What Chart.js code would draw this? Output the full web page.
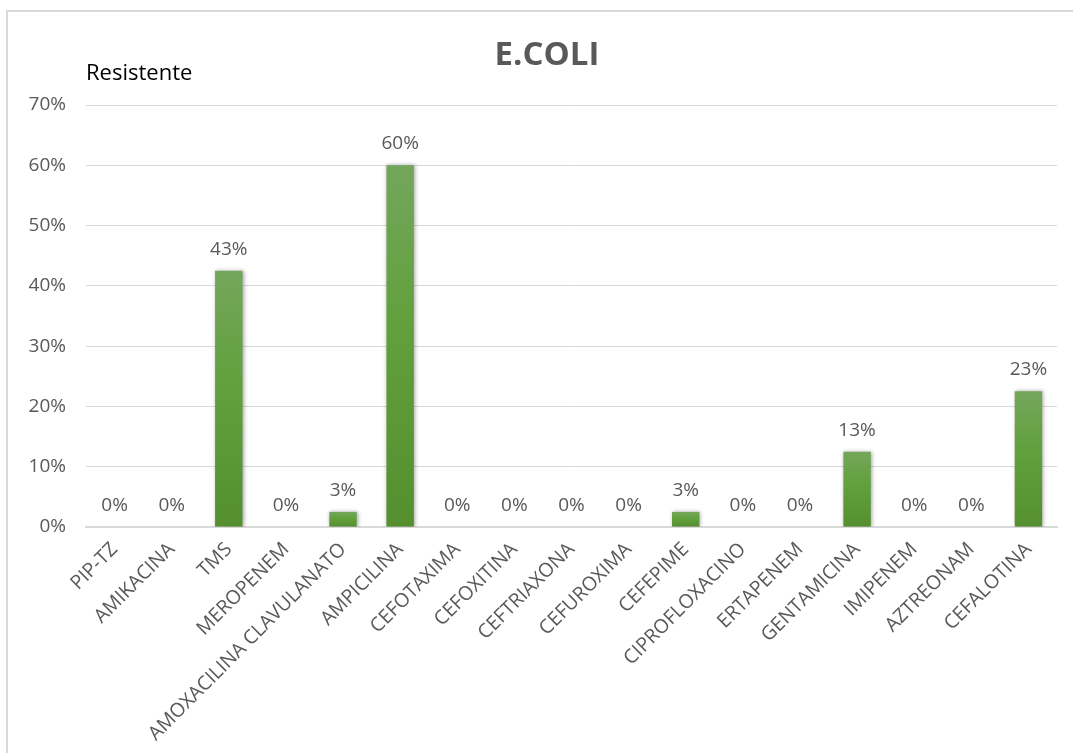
<!DOCTYPE html>
<html>
<head>
<meta charset="utf-8">
<title>E.COLI</title>
<script src="https://cdn.jsdelivr.net/npm/chart.js@4/dist/chart.umd.min.js"></script>
<style>
  html, body { margin: 0; padding: 0; background: #fff; overflow: hidden; }
  #marco { position: absolute; left: 6px; top: 10px; width: 1200px; height: 800px; border-left: 2px solid #d9d9d9; border-top: 2px solid #d9d9d9; }
  #contenedor { position: absolute; left: 0; top: 0; width: 1073px; height: 753px; }
</style>
</head>
<body>
<div id="marco"></div>
<div id="contenedor"><canvas id="grafico"></canvas></div>
<script>
const antibioticos = [
  "PIP-TZ", "AMIKACINA", "TMS", "MEROPENEM", "AMOXACILINA CLAVULANATO",
  "AMPICILINA", "CEFOTAXIMA", "CEFOXITINA", "CEFTRIAXONA", "CEFUROXIMA",
  "CEFEPIME", "CIPROFLOXACINO", "ERTAPENEM", "GENTAMICINA", "IMIPENEM",
  "AZTREONAM", "CEFALOTINA"
];
// porcentaje de cepas resistentes
const resistente = [0, 0, 42.5, 0, 2.5, 60, 0, 0, 0, 0, 2.5, 0, 0, 12.5, 0, 0, 22.5];
const marcasY = [0, 10, 20, 30, 40, 50, 60, 70];

const titulo = "E.COLI";
const tituloEje = "Resistente";

const gris = "#595959";
const fuente = '"Open Sans", sans-serif';

function degradadoBarra(c) {
  const chart = c.chart;
  if (!chart.chartArea || c.type !== "data") return "#5e9a3c";
  const y = chart.scales.y;
  const arriba = y.getPixelForValue(c.raw);
  const abajo = y.getPixelForValue(0);
  if (abajo - arriba < 1) return "#5e9a3c";
  const g = chart.ctx.createLinearGradient(0, arriba, 0, abajo);
  g.addColorStop(0, "#74a65b");
  g.addColorStop(0.45, "#61a03c");
  g.addColorStop(1, "#558f2f");
  return g;
}

// sombra suave detras de las barras
const sombra = {
  id: "sombra",
  beforeDatasetDraw(chart) {
    const ctx = chart.ctx;
    ctx.save();
    ctx.shadowColor = "rgba(0,0,0,0.35)";
    ctx.shadowBlur = 4;
    ctx.shadowOffsetX = 1;
    ctx.shadowOffsetY = 0;
  },
  afterDatasetDraw(chart) {
    chart.ctx.restore();
  }
};

// etiquetas de valor, titulo y texto del eje
const textos = {
  id: "textos",
  afterDatasetsDraw(chart) {
    const ctx = chart.ctx;
    const meta = chart.getDatasetMeta(0);
    ctx.save();
    ctx.font = "19px " + fuente;
    ctx.fillStyle = gris;
    ctx.textAlign = "center";
    ctx.textBaseline = "alphabetic";
    meta.data.forEach((barra, i) => {
      ctx.fillText(Math.round(resistente[i]) + "%", barra.x, barra.y - 16);
    });

    ctx.font = "bold 33px " + fuente;
    ctx.fillText(titulo, 547, 65);

    ctx.font = "22px " + fuente;
    ctx.fillStyle = "#000";
    ctx.textAlign = "left";
    ctx.fillText(tituloEje, chart.chartArea.left, 80);
    ctx.restore();
  }
};

new Chart(document.getElementById("grafico"), {
  type: "bar",
  data: {
    labels: antibioticos,
    datasets: [{
      data: resistente,
      backgroundColor: degradadoBarra,
      borderWidth: 0,
      barPercentage: 0.48,
      categoryPercentage: 1
    }]
  },
  options: {
    responsive: true,
    maintainAspectRatio: false,
    animation: false,
    layout: { padding: { left: 20, right: 16, top: 105, bottom: 0 } },
    plugins: {
      legend: { display: false },
      tooltip: { enabled: false }
    },
    scales: {
      x: {
        grid: { display: false, drawTicks: false },
        border: { color: "#d9d9d9", width: 2 },
        ticks: {
          color: gris,
          font: { family: fuente, size: 19.5 },
          autoSkip: false,
          minRotation: 45,
          maxRotation: 45,
          padding: 11
        },
        afterFit(eje) { eje.height = 226; }
      },
      y: {
        min: 0,
        max: 70,
        grid: { color: "#d9d9d9", lineWidth: 1, drawTicks: false },
        border: { display: false },
        afterBuildTicks(eje) { eje.ticks = marcasY.map(v => ({ value: v })); },
        ticks: {
          color: gris,
          font: { family: fuente, size: 19 },
          padding: 20,
          callback: v => v + "%"
        },
        afterFit(eje) { eje.width = 66; }
      }
    }
  },
  plugins: [sombra, textos]
});
</script>
</body>
</html>
